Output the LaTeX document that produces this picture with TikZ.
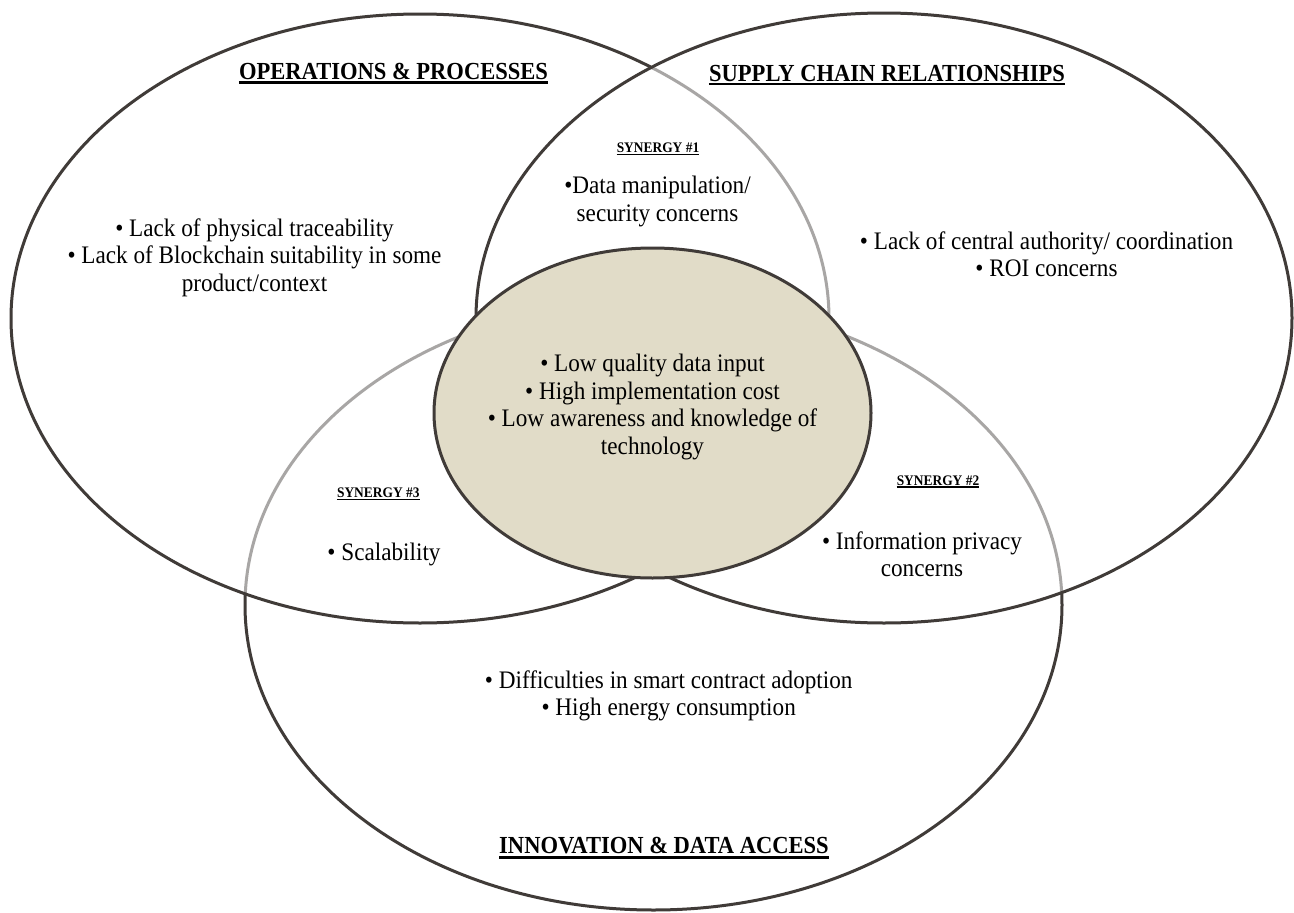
\documentclass[tikz,border=0pt]{standalone}
\usepackage{fontspec}
\setmainfont{Liberation Serif}[FakeStretch=0.92]
\definecolor{ringc}{HTML}{403B38}
\definecolor{corec}{HTML}{E1DCC8}
\newcommand{\blk}[1]{\begin{tabular}[t]{@{}c@{}}#1\end{tabular}}
\begin{document}
\begin{tikzpicture}[x=1pt,y=-1pt,
  ring/.style={draw=ringc, line width=3pt, fill=white, fill opacity=0.55},
  core/.style={draw=ringc, line width=3pt, fill=corec},
  body/.style={font=\fontsize{25.2}{27.5}\selectfont, inner sep=0pt, anchor=base},
  title/.style={font=\bfseries\fontsize{24.5}{29}\selectfont, inner sep=0pt, anchor=base},
  syn/.style={font=\bfseries\fontsize{14.6}{17}\selectfont, inner sep=0pt, anchor=base},
  uline/.style={line width=2.4pt, black},
  suline/.style={line width=1.2pt, black}]
\useasboundingbox (0,0) rectangle (1294,913);
\fill[white] (0,0) rectangle (1294,913);
% circles
\draw[ring] (653.5,605) ellipse [x radius=408.5pt, y radius=305pt];
\draw[ring] (420,318.5) ellipse [x radius=409pt, y radius=304.5pt];
\draw[ring] (884,318) ellipse [x radius=408pt, y radius=305pt];
\draw[core] (652.5,413) ellipse [x radius=218.5pt, y radius=165pt];
% titles
\node[title] (tops) at (393.5,79) {OPERATIONS \& PROCESSES};
\node[title] (tsup) at (887,81) {SUPPLY CHAIN RELATIONSHIPS};
\node[title] (tinn) at (664,853.3) {INNOVATION \& DATA ACCESS};
\draw[uline] ([yshift=-3.5pt]tops.base west) -- ([yshift=-3.5pt]tops.base east);
\draw[uline] ([yshift=-3.2pt]tsup.base west) -- ([yshift=-3.2pt]tsup.base east);
\draw[uline] ([yshift=-4pt]tinn.base west) -- ([yshift=-4pt]tinn.base east);
% synergy labels
\node[syn] (s1) at (658,152.5) {SYNERGY \#1};
\node[syn] (s2) at (938,485) {SYNERGY \#2};
\node[syn] (s3) at (378.3,497.3) {SYNERGY \#3};
\draw[suline] ([yshift=-2pt]s1.base west) -- ([yshift=-2pt]s1.base east);
\draw[suline] ([yshift=-2pt]s2.base west) -- ([yshift=-2pt]s2.base east);
\draw[suline] ([yshift=-2pt]s3.base west) -- ([yshift=-2pt]s3.base east);
% body texts
\node[body] (bops) at (254.5,236) {\blk{• Lack of physical traceability\\• Lack of Blockchain suitability in some\\product/context}};
\node[body] (bsup) at (1046.5,249) {\blk{• Lack of central authority/ coordination\\• ROI concerns}};
\node[body] (bs1) at (657.5,193.5) {\blk{•Data manipulation/\\security concerns}};
\node[body] (bcore) at (652.5,371.7) {\blk{• Low quality data input\\• High implementation cost\\• Low awareness and knowledge of\\technology}};
\node[body] (bs3) at (384,560) {• Scalability};
\node[body] (bs2) at (922,549.3) {\blk{• Information privacy\\concerns}};
\node[body] (binn) at (668.7,688.3) {\blk{• Difficulties in smart contract adoption\\• High energy consumption}};
\end{tikzpicture}
\end{document}
